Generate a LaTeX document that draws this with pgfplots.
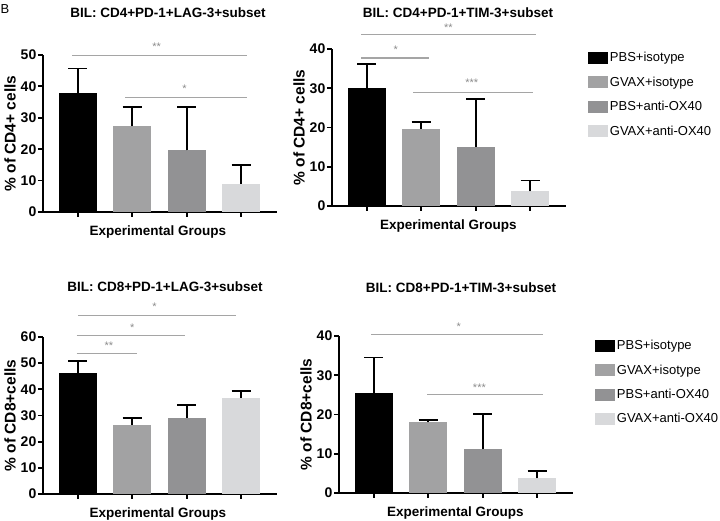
\documentclass[border=0pt]{standalone}
\usepackage{pgfplots}
\pgfplotsset{compat=1.18}
\usepackage{fontspec}
\setmainfont{Liberation Sans}

\definecolor{c1}{RGB}{0,0,0}
\definecolor{c2}{RGB}{162,162,163}
\definecolor{c3}{RGB}{146,146,148}
\definecolor{c4}{RGB}{216,217,219}
\definecolor{sig}{RGB}{165,165,165}

\newcommand\fs[1]{\fontsize{#1}{#1}\selectfont}

\pgfplotsset{
  panel/.style={
    scale only axis, width=234pt, height=157pt,
    xmin=0.36, xmax=4.66, ymin=0,
    axis x line*=bottom, axis y line*=left,
    axis line style={line width=1.8pt, black},
    xtick={1,2,3,4}, xticklabels={,,,},
    tick align=outside, major tick length=5pt,
    tick style={line width=1.8pt, black},
    clip=false,
    ticklabel style={font=\fs{14}\bfseries, inner sep=1.5pt},
    /pgf/number format/assume math mode=true,
    ylabel style={font=\fs{15.5}\bfseries},
    legend image code/.code={\path[#1,draw=none] (0pt,-6pt) rectangle (20pt,6pt);},
    legend cell align=left,
  },
  bars/.style={
    ybar, bar width=38pt, bar shift=0pt, draw=none,
    error bars/y dir=plus, error bars/y explicit,
    error bars/error bar style={line width=1.8pt, black},
    error bars/error mark options={line width=1.8pt, black, mark size=9.5pt, rotate=90},
  },
  sigline/.style={sharp plot, no marks, color=sig, line width=1.1pt, forget plot},
}
\tikzset{
  star/.style={font=\fs{11}, text=sig!85!black},
  xlab/.style={font=\fs{13.5}\bfseries, yshift=-20pt},
  ttl/.style={font=\fs{13.5}\bfseries},
}

\begin{document}
\begin{tikzpicture}[x=1pt,y=1pt]
\path[use as bounding box] (0,0) rectangle (720,521);

\node[font=\fs{13}] at (5,512) {B};

% CD4 LAG-3
\begin{axis}[panel, at={(43pt,309pt)}, anchor=south west,
  ymax=50, ytick={0,10,20,30,40,50}, ylabel={\% of CD4+ cells}]
\addplot[bars, fill=c1] coordinates {(1,37.8) +- (0,7.9)};
\addplot[bars, fill=c2] coordinates {(2,27.3) +- (0,6.1)};
\addplot[bars, fill=c3] coordinates {(3,19.6) +- (0,13.8)};
\addplot[bars, fill=c4] coordinates {(4,9.0) +- (0,5.9)};
\addplot[sigline] coordinates {(0.9,49.7) (4.1,49.7)};
\addplot[sigline] coordinates {(1.87,36.6) (4.1,36.6)};
\node[star] at (axis cs:2.45,52.6) {**};
\node[star] at (axis cs:2.96,39.3) {*};
\node[xlab] at (axis cs:2.47,0) {Experimental Groups};
\end{axis}

% CD4 TIM-3
\begin{axis}[panel, at={(332pt,315pt)}, anchor=south west,
  ymax=40, ytick={0,10,20,30,40}, ylabel={\% of CD4+ cells},
  legend style={draw=none, fill=none, at={(1.08,1.005)}, anchor=north west,
    font=\fs{13}, row sep=9.5pt}]
\addplot[bars, fill=c1] coordinates {(1,30.0) +- (0,6.1)};
\addlegendentry{PBS+isotype}
\addplot[bars, fill=c2] coordinates {(2,19.6) +- (0,1.8)};
\addlegendentry{GVAX+isotype}
\addplot[bars, fill=c3] coordinates {(3,15.1) +- (0,12.1)};
\addlegendentry{PBS+anti-OX40}
\addplot[bars, fill=c4] coordinates {(4,3.7) +- (0,2.8)};
\addlegendentry{GVAX+anti-OX40}
\addplot[sigline] coordinates {(0.9,43.6) (4.1,43.6)};
\addplot[sigline] coordinates {(0.9,37.7) (2.15,37.7)};
\addplot[sigline] coordinates {(1.85,29.0) (4.05,29.0)};
\node[star] at (axis cs:2.5,45.4) {**};
\node[star] at (axis cs:1.53,39.8) {*};
\node[star] at (axis cs:2.93,31.4) {***};
\node[xlab] at (axis cs:2.5,0) {Experimental Groups};
\end{axis}

% CD8 LAG-3
\begin{axis}[panel, at={(43pt,27pt)}, anchor=south west,
  ymax=60, ytick={0,10,20,30,40,50,60}, ylabel={\% of CD8+cells}]
\addplot[bars, fill=c1] coordinates {(1,46.3) +- (0,4.5)};
\addplot[bars, fill=c2] coordinates {(2,26.3) +- (0,2.6)};
\addplot[bars, fill=c3] coordinates {(3,29.1) +- (0,5.0)};
\addplot[bars, fill=c4] coordinates {(4,36.6) +- (0,2.7)};
\addplot[sigline] coordinates {(1.0,68.3) (3.9,68.3)};
\addplot[sigline] coordinates {(0.98,60.7) (2.97,60.7)};
\addplot[sigline] coordinates {(0.98,53.8) (2.08,53.8)};
\node[star] at (axis cs:2.41,71.4) {*};
\node[star] at (axis cs:2.0,63.7) {*};
\node[star] at (axis cs:1.57,56.6) {**};
\node[xlab] at (axis cs:2.47,0) {Experimental Groups};
\end{axis}

% CD8 TIM-3
\begin{axis}[panel, at={(339pt,28pt)}, anchor=south west,
  ymax=40, ytick={0,10,20,30,40}, ylabel={\% of CD8+cells},
  legend style={draw=none, fill=none, at={(1.08,1.0)}, anchor=north west,
    font=\fs{13}, row sep=9.5pt}]
\addplot[bars, fill=c1] coordinates {(1,25.6) +- (0,8.9)};
\addlegendentry{PBS+isotype}
\addplot[bars, fill=c2] coordinates {(2,18.0) +- (0,0.6)};
\addlegendentry{GVAX+isotype}
\addplot[bars, fill=c3] coordinates {(3,11.2) +- (0,8.9)};
\addlegendentry{PBS+anti-OX40}
\addplot[bars, fill=c4] coordinates {(4,3.7) +- (0,1.9)};
\addlegendentry{GVAX+anti-OX40}
\addplot[sigline] coordinates {(0.95,40.4) (4.11,40.4)};
\addplot[sigline] coordinates {(1.98,25.1) (4.11,25.1)};
\node[star] at (axis cs:2.56,42.3) {*};
\node[star] at (axis cs:2.94,26.9) {***};
\node[xlab] at (axis cs:2.5,0) {Experimental Groups};
\end{axis}

\node[ttl] at (168,508) {BIL: CD4+PD-1+LAG-3+subset};
\node[ttl] at (458,508) {BIL: CD4+PD-1+TIM-3+subset};
\node[ttl] at (165,234) {BIL: CD8+PD-1+LAG-3+subset};
\node[ttl] at (461,233) {BIL: CD8+PD-1+TIM-3+subset};
\end{tikzpicture}
\end{document}
